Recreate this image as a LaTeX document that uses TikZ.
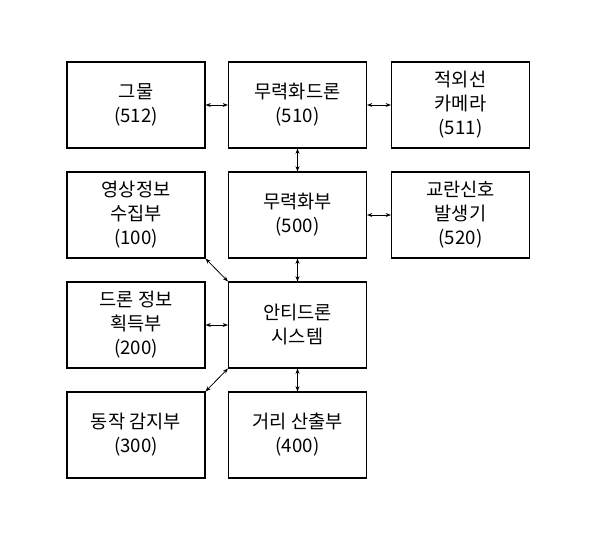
\documentclass[tikz,border=0pt]{standalone}
\usepackage{fontspec}
\setmainfont{Noto Sans CJK KR}
\usetikzlibrary{positioning,arrows.meta}
\tikzset{
  blk/.style={draw=black, thick, minimum width=103.5pt, minimum height=64.5pt, align=center, inner sep=0pt, font=\fontsize{14}{18}\selectfont},
  link/.style={{Stealth[length=4pt]}-{Stealth[length=4pt]}, semithick}
}
\begin{document}
\begin{tikzpicture}[x=0.75pt,y=-0.75pt]
  \useasboundingbox (0,0) rectangle (600,544);
  % first row
  \node[blk] (net) at (136,105) {그물\\(512)};
  \node[blk] (drone) at (297.5,105) {무력화드론\\(510)};
  \node[blk] (ircam) at (460.5,105) {적외선\\카메라\\(511)};
  % second row
  \node[blk] (video) at (136,215) {영상정보\\수집부\\(100)};
  \node[blk] (neutral) at (297.5,215) {무력화부\\(500)};
  \node[blk] (jammer) at (460.5,215) {교란신호\\발생기\\(520)};
  % third row
  \node[blk] (info) at (136,325) {드론 정보\\획득부\\(200)};
  \node[blk] (anti) at (297.5,325) {안티드론\\시스템};
  % fourth row
  \node[blk] (motion) at (136,435) {동작 감지부\\(300)};
  \node[blk] (dist) at (297.5,435) {거리 산출부\\(400)};

  \draw[link] (net) -- (drone);
  \draw[link] (drone) -- (ircam);
  \draw[link] (drone) -- (neutral);
  \draw[link] (neutral) -- (jammer);
  \draw[link] (neutral) -- (anti);
  \draw[link] (info) -- (anti);
  \draw[link] (anti) -- (dist);
  \draw[link] (video.south east) -- (anti.north west);
  \draw[link] (motion.north east) -- (anti.south west);
\end{tikzpicture}
\end{document}
